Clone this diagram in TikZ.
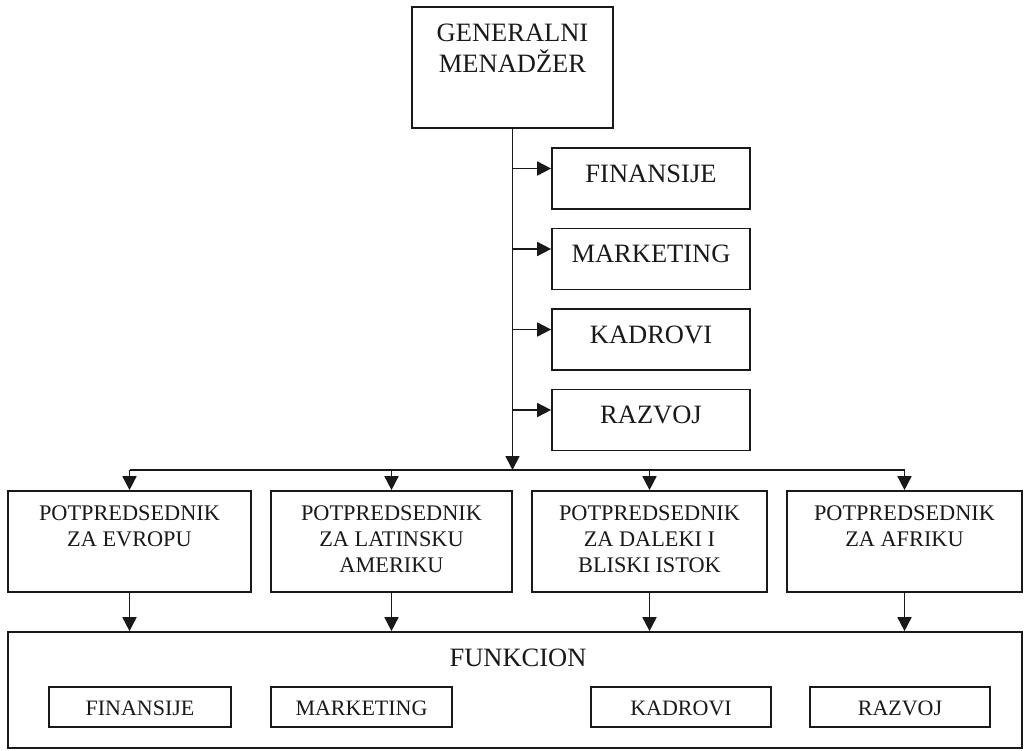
\documentclass[tikz,border=0pt]{standalone}
\usepackage{fontspec}
\setmainfont{Liberation Serif}
\usetikzlibrary{arrows.meta}
\begin{document}
\begin{tikzpicture}[x=1pt,y=-1pt,
  frame/.style={draw=black!90, line width=1.7pt, inner sep=0pt, fill=white},
  bigtxt/.style={font=\fontsize{26.5}{31.5}\selectfont, text=black!90, inner sep=0pt, align=center},
  midtxt/.style={font=\fontsize{22.3}{26}\selectfont, text=black!90, inner sep=0pt, align=center},
  smalltxt/.style={font=\fontsize{22}{26}\selectfont, text=black!90, inner sep=0pt},
  conn/.style={draw=black!90, line width=1.7pt},
  arr/.style={conn, -{Triangle[length=14pt,width=14pt]}}]

\useasboundingbox (0,0) rectangle (1035,750);

% general manager
\node[frame, minimum width=201pt, minimum height=121pt,
      label={[bigtxt, anchor=north, yshift=-17.5pt]north:GENERALNI\\MENADŽER}] (gm) at (512.5,67.5) {};

% staff functions beside the trunk
\foreach \nm/\txt/\cy in {fin/FINANSIJE/178.5, mkt/MARKETING/259, kad/KADROVI/339.5, raz/RAZVOJ/420}{
  \node[frame, minimum width=198pt, minimum height=61pt,
        label={[bigtxt, anchor=center, yshift=5pt]center:\txt}] (\nm) at (651,\cy) {};
  \coordinate (\nm-in) at ([yshift=10pt]\nm.west);
}

% vice presidents
\node[frame, minimum width=243pt, minimum height=101pt,
      label={[midtxt, anchor=north, yshift=-15pt]north:POTPREDSEDNIK\\ZA EVROPU}] (vp1) at (129.5,541.5) {};
\node[frame, minimum width=241pt, minimum height=101pt,
      label={[midtxt, anchor=north, yshift=-15pt]north:POTPREDSEDNIK\\ZA LATINSKU\\AMERIKU}] (vp2) at (391.5,541.5) {};
\node[frame, minimum width=235pt, minimum height=101pt,
      label={[midtxt, anchor=north, yshift=-15pt]north:POTPREDSEDNIK\\ZA DALEKI I\\BLISKI ISTOK}] (vp3) at (649.5,541.5) {};
\node[frame, minimum width=235pt, minimum height=101pt,
      label={[midtxt, anchor=north, yshift=-15pt]north:POTPREDSEDNIK\\ZA AFRIKU}] (vp4) at (904.5,541.5) {};

% functions block
\node[frame, minimum width=1014pt, minimum height=116pt] (fun) at (515,690) {};
\node[bigtxt, anchor=base] (funlbl) at (518,666) {FUNKCION};
\foreach \nm/\txt/\cx/\w in {ffin/FINANSIJE/140/182, fmkt/MARKETING/361.5/181, fkad/KADROVI/681/180, fraz/RAZVOJ/900/180}{
  \node[frame, minimum width=\w pt, minimum height=40pt] (\nm) at (\cx,707) {};
  \node[smalltxt, anchor=base] at ([yshift=-8pt]\nm.center) {\txt};
}

% connectors
\coordinate (bus) at (0,470);
\draw[arr] (gm.south) -- (gm.south |- bus);
\foreach \nm in {fin,mkt,kad,raz}{
  \draw[arr] (gm.south |- \nm-in) -- (\nm-in);
}
\draw[conn] (vp1.north |- bus) -- (vp4.north |- bus);
\foreach \nm in {vp1,vp2,vp3,vp4}{
  \draw[arr] (\nm.north |- bus) -- (\nm.north);
  \draw[arr] (\nm.south) -- (\nm.south |- fun.north);
}
\end{tikzpicture}
\end{document}
